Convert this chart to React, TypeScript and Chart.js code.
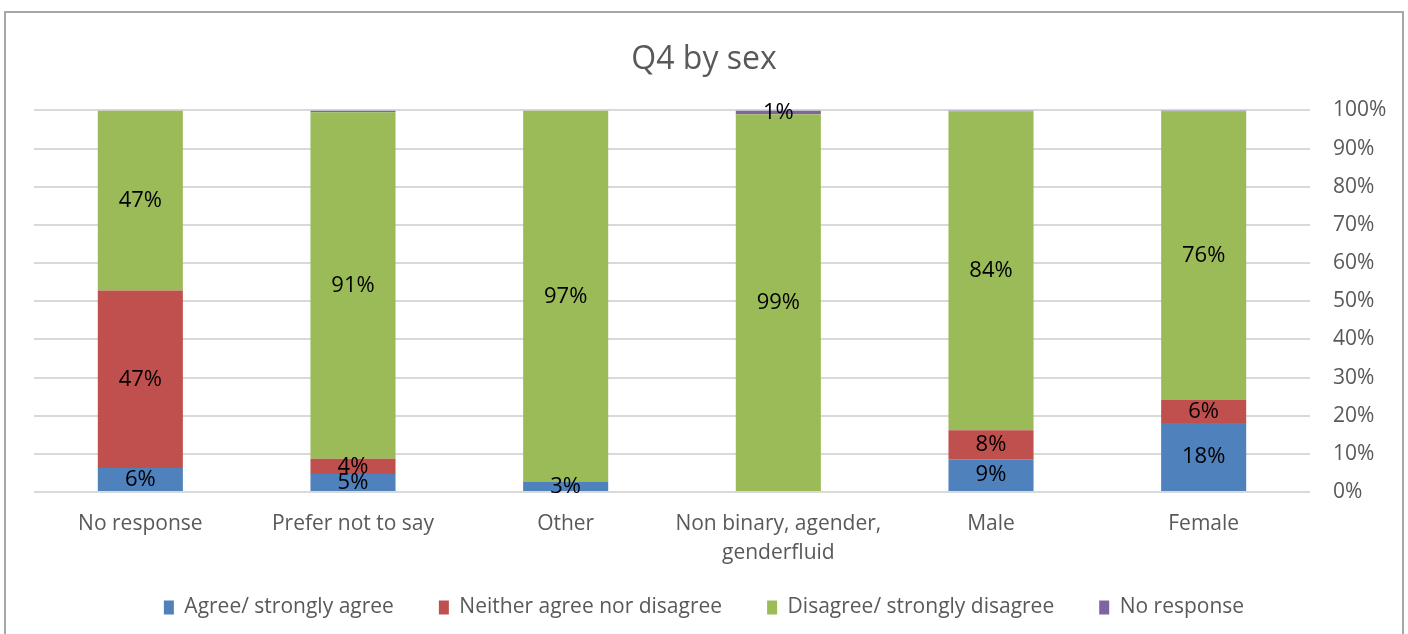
import React, { useEffect, useRef } from "react";
import { Chart, registerables } from "chart.js";

Chart.register(...registerables);

const categories: (string | string[])[] = [
  "No response",
  "Prefer not to say",
  "Other",
  ["Non binary, agender,", "genderfluid"],
  "Male",
  "Female",
];
const agree = [6.3, 4.7, 2.6, 0, 8.6, 18.1];
const neither = [46.5, 4.0, 0, 0, 7.6, 6.0];
const disagree = [47.2, 90.8, 97.4, 99, 83.6, 75.6];
const noResponse = [0, 0.5, 0, 1, 0.2, 0.3];
const yTicks = [0, 10, 20, 30, 40, 50, 60, 70, 80, 90, 100];

const FONT = "'Open Sans', 'DejaVu Sans', sans-serif";
const GREY = "#595959";

const dataLabelPlugin = {
  id: "segLabels",
  afterDatasetsDraw(chart: any) {
    const ctx = chart.ctx;
    ctx.save();
    ctx.font = `22px ${FONT}`;
    ctx.fillStyle = "#000000";
    ctx.textAlign = "center";
    ctx.textBaseline = "middle";
    chart.data.datasets.forEach((ds: any, di: number) => {
      const meta = chart.getDatasetMeta(di);
      meta.data.forEach((bar: any, i: number) => {
        const v = ds.data[i];
        if (v < 0.8) return;
        const y = (bar.y + bar.base) / 2;
        ctx.fillText(Math.round(v) + "%", bar.x, y);
      });
    });
    ctx.restore();
  },
};

export default function App() {
  const ref = useRef<HTMLCanvasElement>(null);
  useEffect(() => {
    if (!ref.current) return;
    const chart = new Chart(ref.current, {
      type: "bar",
      data: {
        labels: categories as any,
        datasets: [
          { label: "Agree/ strongly agree", data: agree, backgroundColor: "#4F81BD" },
          { label: "Neither agree nor disagree", data: neither, backgroundColor: "#C0504D" },
          { label: "Disagree/ strongly disagree", data: disagree, backgroundColor: "#9BBB59" },
          { label: "No response", data: noResponse, backgroundColor: "#8064A2" },
        ],
      },
      options: {
        responsive: false,
        animation: false,
        devicePixelRatio: 1,
        datasets: { bar: { categoryPercentage: 1, barPercentage: 0.4 } },
        layout: { padding: { left: 34, right: 34, top: 12, bottom: 6 } },
        plugins: {
          title: {
            display: true,
            text: "Q4 by sex",
            color: GREY,
            font: { family: FONT, size: 32, weight: "normal" },
            padding: { top: 29, bottom: 31 },
          },
          legend: {
            position: "bottom",
            labels: {
              color: GREY,
              font: { family: FONT, size: 21 },
              boxWidth: 10,
              boxHeight: 14,
              padding: 45,
            },
          },
          tooltip: { enabled: false },
        },
        scales: {
          x: {
            stacked: true,
            grid: { display: false, drawTicks: false },
            border: { display: false },
            afterFit: (scale: any) => {
              scale.height = 60;
              scale._computeLabelArea = () => undefined;
            },
            ticks: {
              color: GREY,
              font: { family: FONT, size: 21, lineHeight: 1.35 },
              padding: 18,
              maxRotation: 0,
              autoSkip: false,
            },
          },
          y: {
            stacked: true,
            position: "right",
            min: 0,
            max: 100,
            afterBuildTicks: (scale: any) => {
              scale.ticks = yTicks.map((v) => ({ value: v }));
            },
            afterFit: (scale: any) => {
              scale.width = 64;
              scale._computeLabelArea = () => undefined;
            },
            grid: { color: "#d9d9d9", lineWidth: 2, drawTicks: false },
            border: { display: false },
            ticks: {
              color: GREY,
              font: { family: FONT, size: 21 },
              padding: 23,
              callback: (v: any) => v + "%",
            },
          },
        },
      },
      plugins: [dataLabelPlugin],
    });
    return () => chart.destroy();
  }, []);
  return (
    <div style={{ position: "absolute", left: 0, top: 0, width: 1408, height: 634, background: "#fff", overflow: "hidden" }}>
      <canvas ref={ref} width={1408} height={634} style={{ position: "absolute", left: 0, top: 0 }} />
      <div
        style={{
          position: "absolute",
          left: 4,
          top: 11,
          width: 1400,
          height: 660,
          border: "2px solid #a6a6a6",
          boxSizing: "border-box",
          pointerEvents: "none",
        }}
      />
    </div>
  );
}
